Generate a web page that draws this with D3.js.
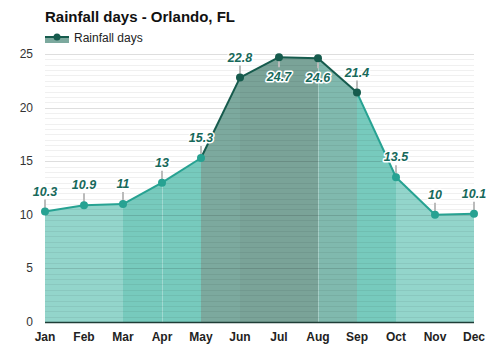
<!DOCTYPE html>
<html>
<head>
<meta charset="utf-8">
<script src="https://cdn.jsdelivr.net/npm/d3@7"></script>
<style>
  body { margin: 0; background: #fff; }
  svg { font-family: Arial, "Liberation Sans", sans-serif; display: block; }
</style>
</head>
<body>
<div id="chart"></div>
<script>
let w = 500, h = 350;

// data
let months = ["Jan","Feb","Mar","Apr","May","Jun","Jul","Aug","Sep","Oct","Nov","Dec"];
let rainDays = [10.3, 10.9, 11, 13, 15.3, 22.8, 24.7, 24.6, 21.4, 13.5, 10, 10.1];
let yTicks = [0, 5, 10, 15, 20, 25];
// fill colour between month i and i+1
let segFill = ["#93d5cb","#93d5cb","#77cabd","#77cabd","#7ca99e","#7aa398","#7aa398","#80b9ae","#77cabd","#93d5cb","#93d5cb"];
let segLine = ["#27a292","#27a292","#27a292","#27a292","#165b4d","#165b4d","#165b4d","#165b4d","#27a292","#27a292","#27a292"];
let dotFill = ["#27a292","#27a292","#27a292","#27a292","#27a292","#165b4d","#165b4d","#165b4d","#165b4d","#27a292","#27a292","#27a292"];
let labelBelow = ["Jul","Aug"];
let sepMonths = ["Apr","Aug"];

let svg = d3.select("#chart").append("svg")
    .attr("width", w)
    .attr("height", h);

let xScale = d3.scalePoint().domain(months).range([45, 474]);
let yScale = d3.scaleLinear().domain([0, 25]).range([322, 54]);

// title + legend
svg.append("text")
    .attr("x", 45).attr("y", 22)
    .attr("font-size", 15).attr("font-weight", "bold").attr("fill", "#111")
    .text("Rainfall days - Orlando, FL");

let leg = svg.append("g");
leg.append("rect").attr("x", 45).attr("y", 37).attr("width", 24).attr("height", 6).attr("fill", "#7ca99e");
leg.append("line").attr("x1", 45).attr("x2", 69).attr("y1", 37).attr("y2", 37)
    .attr("stroke", "#165b4d").attr("stroke-width", 2);
leg.append("circle").attr("cx", 57).attr("cy", 37).attr("r", 3.5).attr("fill", "#165b4d");
leg.append("text").attr("x", 74).attr("y", 42)
    .attr("font-size", 12).attr("fill", "#222").text("Rainfall days");

// fills between months
let area = d3.area()
    .x(d => xScale(d.m))
    .y0(yScale(0))
    .y1(d => yScale(d.v));

let data = months.map((m, i) => ({m: m, v: rainDays[i]}));

for (let i = 0; i < data.length - 1; i++) {
  svg.append("path")
    .datum([data[i], data[i+1]])
    .attr("d", area)
    .attr("fill", segFill[i]);
}

// faint separators inside the fill
svg.append("g").selectAll("line").data(data.filter(d => sepMonths.indexOf(d.m) >= 0)).enter().append("line")
    .attr("x1", d => xScale(d.m) + 0.5).attr("x2", d => xScale(d.m) + 0.5)
    .attr("y1", d => yScale(d.v)).attr("y2", yScale(0))
    .attr("stroke", "#fff").attr("stroke-opacity", 0.3);

// grid lines (minor every half unit, major every 5)
let minor = d3.range(0, 25.01, 0.5).filter(v => v % 5 != 0);
svg.append("g").selectAll("line").data(minor).enter().append("line")
    .attr("x1", 45).attr("x2", 474)
    .attr("y1", d => Math.round(yScale(d)) + 0.5).attr("y2", d => Math.round(yScale(d)) + 0.5)
    .attr("stroke", "#000").attr("stroke-opacity", 0.06);

svg.append("g").selectAll("line").data(yTicks.slice(1)).enter().append("line")
    .attr("x1", 45).attr("x2", 474)
    .attr("y1", d => Math.round(yScale(d)) + 0.5).attr("y2", d => Math.round(yScale(d)) + 0.5)
    .attr("stroke", "#000").attr("stroke-opacity", 0.13);

// y axis labels
svg.append("g").selectAll("text").data(yTicks).enter().append("text")
    .attr("x", 33).attr("y", d => yScale(d) + 4)
    .attr("text-anchor", "end").attr("font-size", 12).attr("fill", "#333")
    .text(d => d);

// x axis
svg.append("line")
    .attr("x1", 45).attr("x2", 474).attr("y1", 322.5).attr("y2", 322.5)
    .attr("stroke", "#1f3d37").attr("stroke-width", 1.5);

svg.append("g").selectAll("text").data(months).enter().append("text")
    .attr("x", d => xScale(d)).attr("y", 341)
    .attr("text-anchor", "middle").attr("font-size", 12).attr("font-weight", "bold").attr("fill", "#222")
    .text(d => d);

// leader lines
let groups = svg.append("g").selectAll("g").data(data).enter().append("g");
groups.filter(d => labelBelow.indexOf(d.m) < 0).append("line")
    .attr("x1", d => xScale(d.m)).attr("x2", d => xScale(d.m))
    .attr("y1", d => yScale(d.v)).attr("y2", d => yScale(d.v) - 12)
    .attr("stroke", "#bbb").attr("stroke-width", 2);
groups.filter(d => labelBelow.indexOf(d.m) >= 0).append("line")
    .attr("x1", d => xScale(d.m)).attr("x2", d => xScale(d.m))
    .attr("y1", d => yScale(d.v)).attr("y2", d => yScale(d.v) + 10)
    .attr("stroke", "#bbb").attr("stroke-width", 2);

// line segments
for (let i = 0; i < data.length - 1; i++) {
  svg.append("line")
    .attr("x1", xScale(data[i].m)).attr("y1", yScale(data[i].v))
    .attr("x2", xScale(data[i+1].m)).attr("y2", yScale(data[i+1].v))
    .attr("stroke", segLine[i]).attr("stroke-width", 2);
}

// dots
svg.append("g").selectAll("circle").data(data).enter().append("circle")
    .attr("cx", d => xScale(d.m)).attr("cy", d => yScale(d.v))
    .attr("r", 4)
    .attr("fill", (d, i) => dotFill[i]);

// value labels
svg.append("g").selectAll("text").data(data).enter().append("text")
    .attr("x", d => xScale(d.m))
    .attr("y", d => labelBelow.indexOf(d.m) >= 0 ? yScale(d.v) + 24 : yScale(d.v) - 16)
    .attr("text-anchor", "middle")
    .attr("font-size", 12.5).attr("font-weight", "bold").attr("font-style", "italic")
    .attr("fill", "#17695b")
    .attr("stroke", "#fff").attr("stroke-width", 3).attr("stroke-linejoin", "round")
    .attr("paint-order", "stroke")
    .text(d => d.v);
</script>
</body>
</html>
